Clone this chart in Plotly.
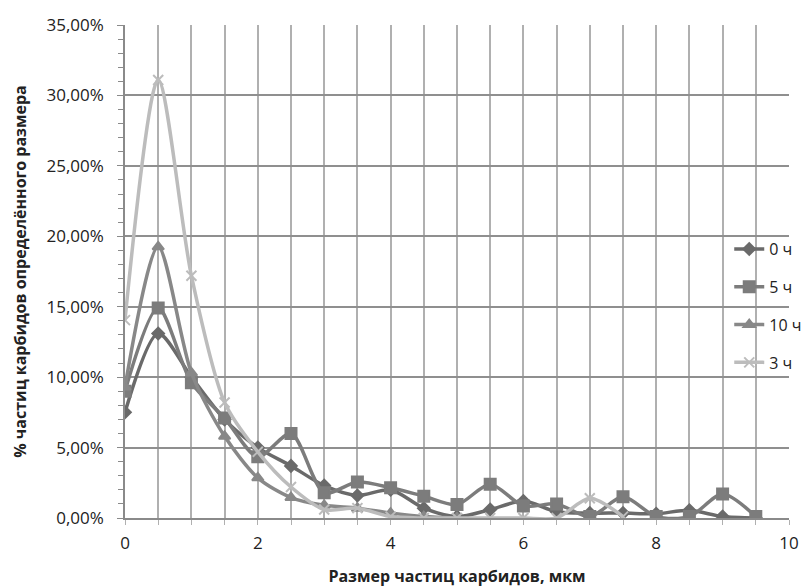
import plotly.graph_objects as go

sizes = [0, 0.5, 1, 1.5, 2, 2.5, 3, 3.5, 4, 4.5, 5, 5.5, 6, 6.5, 7, 7.5, 8, 8.5, 9, 9.5]
h0 = [7.5, 13.1, 10.0, 7.0, 5.0, 3.7, 2.3, 1.6, 2.0, 0.7, 0.1, 0.6, 1.2, 0.45, 0.35, 0.35, 0.3, 0.55, 0.1, 0.0]
h5 = [9.0, 14.9, 9.6, 7.1, 4.35, 6.0, 1.8, 2.55, 2.15, 1.55, 0.95, 2.4, 0.85, 1.0, 0.1, 1.5, 0.1, 0.1, 1.7, 0.1]
h10 = [9.3, 19.25, 10.3, 5.8, 2.85, 1.45, 0.9, 0.7, 0.35, 0.1, 0.0]
h3 = [14.05, 31.1, 17.2, 8.2, 4.7, 2.2, 0.6, 0.7, 0.1, 0.0, 0.0, 0.0, 0.0, 0.0, 1.4, 0.1]

series = [
    ("0 ч", h0, "#6a6a6a", "diamond", 9),
    ("5 ч", h5, "#7c7c7c", "square", 11),
    ("10 ч", h10, "#888888", "triangle-up", 10),
    ("3 ч", h3, "#bcbcbc", "x-thin", 10),
]

fig = go.Figure()
for name, vals, color, sym, ms in series:
    fig.add_trace(go.Scatter(
        x=sizes[:len(vals)], y=[v / 100 for v in vals], name=name,
        legendgroup=name,
        mode="lines+markers",
        line=dict(color=color, width=3.5, shape="spline", smoothing=0.8),
        marker=dict(symbol=sym, size=ms, color=color,
                    line=dict(color=color, width=2)),
    ))

fig.update_layout(
    width=804, height=588,
    margin=dict(l=125, r=15, t=25, b=70, autoexpand=False),
    paper_bgcolor="white", plot_bgcolor="white",
    separators=", ",
    font=dict(family="Open Sans, sans-serif", color="#222222", size=17),
    showlegend=True,
    legend=dict(x=0.91, y=0.58, xanchor="left", yanchor="top",
                bgcolor="rgba(0,0,0,0)", font=dict(size=16),
                traceorder="grouped", tracegroupgap=14, itemsizing="trace"),
    xaxis=dict(
        range=[0, 10], dtick=2, tick0=0,
        showgrid=True, gridcolor="#b0b0b0", gridwidth=1.5,
        ticks="outside", ticklen=5, tickcolor="#b0b0b0",
        ticklabelstandoff=4,
        minor=dict(dtick=0.5, showgrid=True, gridcolor="#b0b0b0", gridwidth=1.5,
                   ticks="outside", ticklen=5, tickcolor="#b0b0b0"),
        showline=True, linecolor="#8a8a8a", linewidth=1.5,
        zeroline=False, automargin=False,
        title=dict(text="<b>Размер частиц карбидов, мкм</b>", font=dict(size=16), standoff=18),
    ),
    yaxis=dict(
        range=[0, 0.35], dtick=0.05, tickformat=".2%",
        showgrid=True, gridcolor="#8f8f8f", gridwidth=1.5,
        showline=True, linecolor="#8a8a8a", linewidth=1.5,
        ticks="outside", ticklen=6, tickcolor="#8a8a8a",
        ticklabelstandoff=10,
        minor=dict(dtick=0.01, ticks="outside", ticklen=5, tickcolor="#8a8a8a"),
        zeroline=False, automargin=False,
        title=dict(text="<b>% частиц карбидов определённого размера</b>", font=dict(size=16), standoff=16),
    ),
)

fig.write_html("out.html")
